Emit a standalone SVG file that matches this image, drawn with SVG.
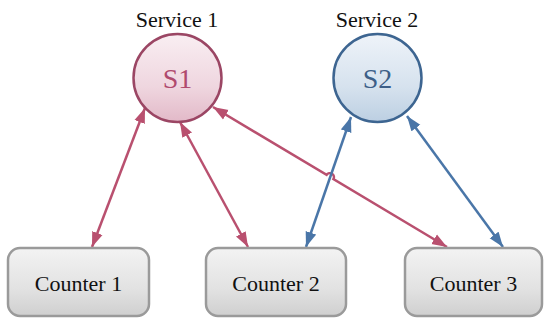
<svg xmlns="http://www.w3.org/2000/svg" width="544" height="320" viewBox="0 0 544 320">
<defs>
<linearGradient id="gBox" x1="0" y1="0" x2="0" y2="1">
<stop offset="0" stop-color="#f3f3f3"/>
<stop offset="0.6" stop-color="#e2e2e2"/>
<stop offset="1" stop-color="#cfcfcf"/>
</linearGradient>
<linearGradient id="gRed" x1="0" y1="0" x2="0" y2="1">
<stop offset="0" stop-color="#f9eef2"/>
<stop offset="0.6" stop-color="#efd6df"/>
<stop offset="1" stop-color="#e2b9c8"/>
</linearGradient>
<linearGradient id="gBlue" x1="0" y1="0" x2="0" y2="1">
<stop offset="0" stop-color="#eef3f9"/>
<stop offset="0.6" stop-color="#d6e2ee"/>
<stop offset="1" stop-color="#bccfe2"/>
</linearGradient>
<marker id="aRed" markerUnits="userSpaceOnUse" markerWidth="16" markerHeight="12" refX="15" refY="6" orient="auto-start-reverse">
<path d="M0,0.5 L15,6 L0,11.5 z" fill="#b9506f"/>
</marker>
<marker id="aBlue" markerUnits="userSpaceOnUse" markerWidth="16" markerHeight="12" refX="15" refY="6" orient="auto-start-reverse">
<path d="M0,0.5 L15,6 L0,11.5 z" fill="#4a76a8"/>
</marker>
</defs>
<style>
.lbl{font-family:"Liberation Serif","DejaVu Serif",serif;font-size:22px;fill:#111;text-anchor:middle}
.box{fill:url(#gBox);stroke:#9a9a9a;stroke-width:2.5}
.red{fill:none;stroke:#b9506f;stroke-width:2.5;marker-start:url(#aRed);marker-end:url(#aRed)}
.blue{fill:none;stroke:#4a76a8;stroke-width:2.5;marker-start:url(#aBlue);marker-end:url(#aBlue)}
.sn{font-family:"Liberation Serif","DejaVu Serif",serif;font-size:28px;text-anchor:middle}
</style>
<g id="connectors">
<path class="red" d="M145,108 L92,247"/>
<path class="red" d="M180,122 L248,247"/>
<path class="red" d="M213,107 L326.6,174.9 A4,4 0 0 1 333.4,179.1 L447,247"/>
<path class="blue" d="M351,117 L306,247"/>
<path class="blue" d="M407,116 L503,247"/>
</g>
<g id="s1">
<circle cx="177.5" cy="78" r="44" fill="url(#gRed)" stroke="#9b4664" stroke-width="2.5"/>
<text class="sn" x="177.5" y="88" fill="#b04a6e">S1</text>
<text class="lbl" x="177" y="27">Service 1</text>
</g>
<g id="s2">
<circle cx="377.5" cy="78" r="44" fill="url(#gBlue)" stroke="#3d6591" stroke-width="2.5"/>
<text class="sn" x="377.5" y="88" fill="#3d5f88">S2</text>
<text class="lbl" x="377" y="27">Service 2</text>
</g>
<g id="c1">
<rect class="box" x="8" y="248" width="141" height="68" rx="12"/>
<text class="lbl" x="78.5" y="291">Counter 1</text>
</g>
<g id="c2">
<rect class="box" x="206" y="248" width="140" height="68" rx="12"/>
<text class="lbl" x="276" y="291">Counter 2</text>
</g>
<g id="c3">
<rect class="box" x="405" y="248" width="137" height="68" rx="12"/>
<text class="lbl" x="473.5" y="291">Counter 3</text>
</g>
</svg>
